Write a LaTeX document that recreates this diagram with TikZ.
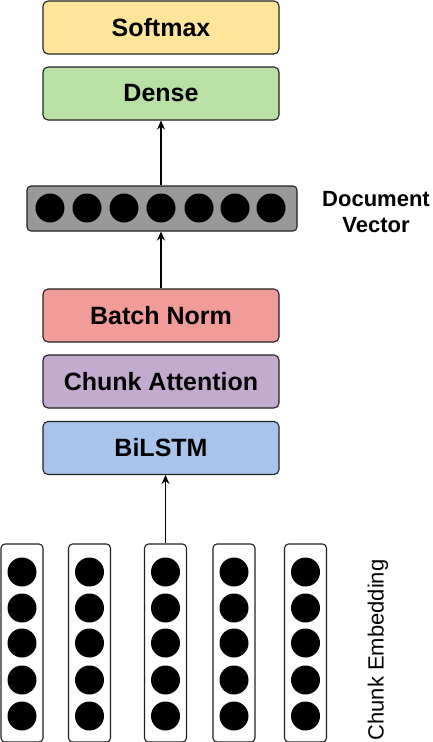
\documentclass[tikz,border=0pt]{standalone}
\usepackage{fontspec}
\setmainfont{Liberation Sans}
\usetikzlibrary{arrows.meta}
\definecolor{cSoft}{HTML}{FFE599}
\definecolor{cDense}{HTML}{B9E0A5}
\definecolor{cBN}{HTML}{F19C99}
\definecolor{cAtt}{HTML}{C3ABD0}
\definecolor{cLstm}{HTML}{A9C4EB}
\definecolor{cVec}{HTML}{999999}
\definecolor{cEdge}{HTML}{222222}
\begin{document}
\begin{tikzpicture}[x=1pt,y=-1pt,
  layer/.style={draw=cEdge,line width=1.1pt,rounded corners=5pt,minimum width=236pt,minimum height=53pt,inner sep=0pt,font=\fontsize{25}{28}\selectfont\bfseries},
  vecbox/.style={draw=cEdge,line width=1.1pt,fill=cVec,rounded corners=4pt,minimum width=270pt,minimum height=45pt,inner sep=0pt},
  colbox/.style={draw=cEdge,line width=1.1pt,rounded corners=4pt,minimum width=42pt,minimum height=198pt,inner sep=0pt},
  dot/.style={circle,fill=black,minimum size=29pt,inner sep=0pt},
  lbl/.style={font=\fontsize{22}{26}\selectfont\bfseries,align=center},
  arr/.style={line width=1.1pt,-{Stealth[length=9pt,width=8pt]}}]
\useasboundingbox (0,0) rectangle (432,742);
\node[layer,fill=cSoft] (soft) at (161,27.5) {Softmax};
\node[layer,fill=cDense] (dense) at (161,93.5) {Dense};
\node[vecbox] (vec) at (162,208.5) {};
\foreach \i/\x in {1/50,2/87,3/124,4/161,5/199,6/235,7/271}
  \node[dot] (v\i) at (\x,208) {};
\node[lbl] (docl) at (376,212) {Document\\Vector};
\node[layer,fill=cBN] (bn) at (161,315.5) {Batch Norm};
\node[layer,fill=cAtt] (att) at (161,381.5) {Chunk Attention};
\node[layer,fill=cLstm] (lstm) at (161,448) {BiLSTM};
\foreach \c/\x in {1/22,2/89.5,3/165.5,4/234,5/305.5}{
  \node[colbox] (col\c) at (\x,643) {};
  \foreach \j/\y in {1/572,2/608,3/643,4/680,5/716}
    \node[dot] (d\c\j) at (\x,\y) {};
}
\node[rotate=90,font=\fontsize{22}{26}\selectfont] (cel) at (378,650) {Chunk Embedding};
\draw[arr] (vec.north -| dense.south) -- (dense.south);
\draw[arr] (bn.north) -- (bn.north |- vec.south);
\draw[arr] (col3.north) -- (col3.north |- lstm.south);
\end{tikzpicture}
\end{document}
